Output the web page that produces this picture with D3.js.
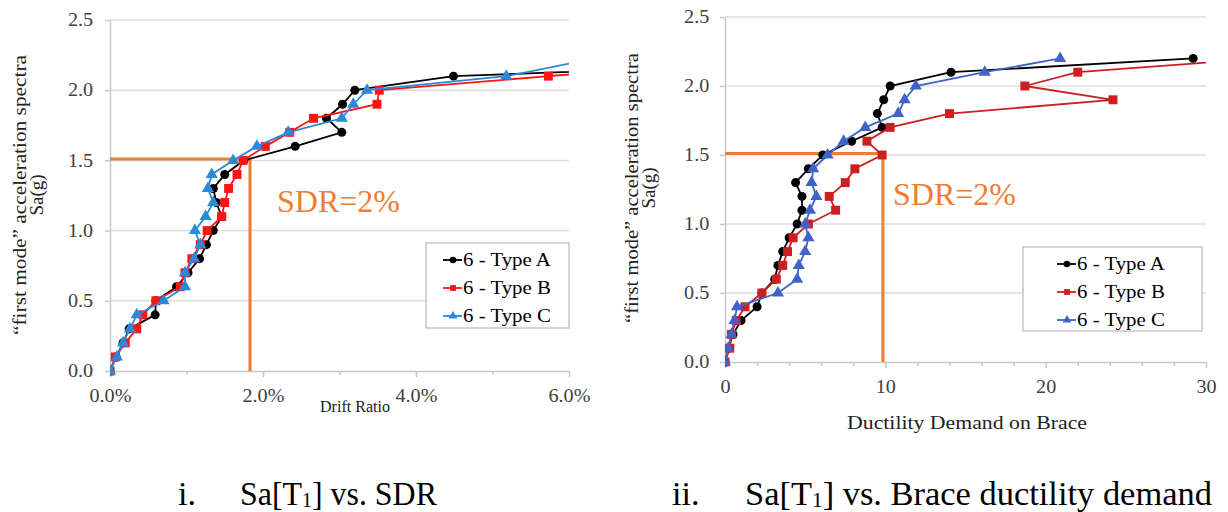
<!DOCTYPE html>
<html>
<head>
<meta charset="utf-8">
<script src="https://cdn.jsdelivr.net/npm/d3@7"></script>
<style>
  body { margin: 0; background: #fff; }
  svg text { font-family: "Liberation Serif", "Times New Roman", serif; }
</style>
</head>
<body>
<div id="container"></div>
<script>
// Sa levels (g) of the incremental dynamic analysis, shared by all series
const saLevels = [0.0, 0.1, 0.2, 0.3, 0.4, 0.5, 0.6, 0.7, 0.8, 0.9, 1.0, 1.1,
                  1.2, 1.3, 1.4, 1.5, 1.6, 1.7, 1.8, 1.9, 2.0, 2.1, 2.2];

// panel i: story drift ratio (%)
const driftA = [0, 0.08, 0.17, 0.25, 0.59, 0.6, 0.87, 1.02, 1.17, 1.26, 1.35, 1.46,
                1.39, 1.35, 1.5, 1.75, 2.42, 3.03, 2.83, 3.04, 3.2, 4.49, 9.5];
const driftB = [0, 0.07, 0.2, 0.35, 0.43, 0.6, 0.92, 0.98, 1.07, 1.18, 1.27, 1.46,
                1.5, 1.55, 1.66, 1.74, 2.03, 2.35, 2.66, 3.49, 3.52, 5.73, 8.0];
const driftC = [0, 0.09, 0.17, 0.26, 0.35, 0.7, 0.98, 0.98, 1.1, 1.18, 1.11, 1.25,
                1.35, 1.28, 1.33, 1.61, 1.92, 2.33, 3.03, 3.18, 3.36, 5.18, 6.1];

// panel ii: ductility demand on brace
const ductA = [0, 0.2, 0.5, 1.0, 2.0, 2.3, 3.1, 3.3, 3.6, 4.0, 4.5, 4.8,
               4.8, 4.4, 5.2, 6.1, 7.9, 9.8, 9.5, 9.9, 10.3, 14.1, 29.2];
const ductB = [0, 0.3, 0.4, 0.7, 1.25, 2.3, 3.2, 3.6, 3.9, 4.25, 5.2, 6.9,
               6.5, 7.5, 8.1, 9.8, 8.85, 10.3, 14.0, 24.2, 18.7, 22.0, 33.5];
const ductC = [0, 0.2, 0.4, 0.6, 0.75, 3.3, 4.5, 4.6, 5.0, 5.2, 5.0, 5.3,
               5.7, 5.4, 5.5, 6.4, 7.4, 8.75, 10.8, 11.2, 11.9, 16.2, 20.9];

const seriesNames = ["6 - Type A", "6 - Type B", "6 - Type C"];
const yTicks = [0, 0.5, 1.0, 1.5, 2.0, 2.5];
const driftTicks = [0, 2, 4, 6];
const driftMinor = [1, 3, 5];
const ductTicks = [0, 10, 20, 30];
const ductMinor = [2, 4, 6, 8, 12, 14, 16, 18, 22, 24, 26, 28];
const sdrSa = 1.51;          // Sa at SDR = 2%
const sdrDrift = 1.83;       // drift marker position
const sdrDuct = 9.85;        // ductility marker position

const w = 1228;
const h = 512;
const orange = "#ED7D31";

const svg = d3.select("#container")
              .append("svg")
              .attr("width", w)
              .attr("height", h);

// text placed at (x,y), optionally rotated, stretched to a target length
function label(str, x, y, o) {
    const g = svg.append("g");
    const t = g.append("text")
               .attr("text-anchor", o.anchor || "start")
               .style("font-size", o.size + "px")
               .attr("fill", o.color || "#000");
    if (o.sub) {
        t.append("tspan").text(o.sub[0]);
        t.append("tspan").text(o.sub[1]).style("font-size", (o.size * 0.62) + "px").attr("dy", 2);
        t.append("tspan").text(o.sub[2]).attr("dy", -2);
    } else {
        t.text(str);
    }
    let s = 1;
    if (o.fit) s = o.fit / t.node().getComputedTextLength();
    g.attr("transform", "translate(" + x + "," + y + ")" + (o.rotate ? " rotate(" + o.rotate + ")" : "") + " scale(" + s + ",1)");
    return t;
}

function drawPanel(p) {
    const x = d3.scaleLinear().domain(p.xDomain).range([p.left, p.right]);
    const y = d3.scaleLinear().domain([0, 2.5]).range([p.bottom, p.top]);

    svg.append("clipPath").attr("id", p.id)
       .append("rect")
       .attr("x", p.left).attr("y", p.top - 12)
       .attr("width", p.right - p.left).attr("height", p.bottom - p.top + 24);

    // horizontal gridlines
    svg.selectAll(null)
       .data(yTicks.slice(1))
       .enter()
       .append("line")
       .attr("x1", p.left).attr("x2", p.right)
       .attr("y1", d => y(d)).attr("y2", d => y(d))
       .attr("stroke", "#dedede")
       .attr("stroke-width", 1.5);

    // y axis
    const yAxis = d3.axisLeft(y).tickValues(yTicks).tickFormat(d3.format(".1f"))
                    .tickSize(5).tickSizeOuter(0).tickPadding(p.yPad);
    const ya = svg.append("g")
                  .attr("transform", "translate(" + p.left + ",0)")
                  .call(yAxis);

    // x axis, major + minor ticks
    const xAxis = d3.axisBottom(x).tickValues(p.xTicks).tickFormat(p.xFormat)
                    .tickSize(6).tickSizeOuter(0).tickPadding(p.xPad);
    const xa = svg.append("g")
                  .attr("transform", "translate(0," + p.bottom + ")")
                  .call(xAxis);
    const xm = svg.append("g")
                  .attr("transform", "translate(0," + p.bottom + ")")
                  .call(d3.axisBottom(x).tickValues(p.xMinor).tickFormat("").tickSize(4).tickSizeOuter(0));
    xm.select(".domain").remove();

    [ya, xa, xm].forEach(a => {
        a.attr("font-family", null);
        a.select(".domain").attr("stroke", "#c8c8c8").attr("stroke-width", 1.5);
        a.selectAll(".tick line").attr("stroke", "#c8c8c8").attr("stroke-width", 1.5);
        a.selectAll(".tick text")
         .style("font-size", "18px")
         .attr("fill", "#404040")
         .attr("transform", "scale(1.12,1)");
    });

    // SDR = 2% marker
    svg.append("path")
       .attr("d", "M" + x(0) + "," + y(sdrSa) + "H" + x(p.sdrX) + "V" + y(0))
       .attr("fill", "none")
       .attr("stroke", orange)
       .attr("stroke-width", 3);

    // series
    const plot = svg.append("g").attr("clip-path", "url(#" + p.id + ")");
    p.series.forEach(s => {
        const pts = saLevels.map((sa, i) => [s.values[i], sa]);
        plot.append("path")
            .datum(pts)
            .attr("d", d3.line().x(d => x(d[0])).y(d => y(d[1])))
            .attr("fill", "none")
            .attr("stroke", s.color)
            .attr("stroke-width", 1.8);
        plot.selectAll(null)
            .data(pts)
            .enter()
            .append("path")
            .attr("transform", d => "translate(" + x(d[0]) + "," + y(d[1]) + ")")
            .attr("d", d3.symbol().type(s.symbol).size(s.size))
            .attr("fill", s.color);
    });

    label("SDR=2%", p.sdrText[0], p.sdrText[1], {size: 32, color: orange, fit: 123});

    // legend
    const lg = p.legend;
    svg.append("rect")
       .attr("x", lg.x).attr("y", lg.y)
       .attr("width", lg.w).attr("height", lg.h)
       .attr("fill", "#fff")
       .attr("stroke", "#bdbdbd")
       .attr("stroke-width", 1.3);
    p.series.forEach((s, i) => {
        const cy = lg.y + 17 + i * 28;
        svg.append("line")
           .attr("x1", lg.lineX).attr("x2", lg.lineX + 19)
           .attr("y1", cy).attr("y2", cy)
           .attr("stroke", s.color).attr("stroke-width", 1.8);
        svg.append("path")
           .attr("transform", "translate(" + (lg.lineX + 10) + "," + cy + ")")
           .attr("d", d3.symbol().type(s.symbol).size(34))
           .attr("fill", s.color);
        label(seriesNames[i], lg.lineX + 20, cy + 6, {size: 18, fit: 88});
    });

    // axis titles
    label("\u201Cfirst mode\u201D acceleration spectra", p.yTitleX, p.yTitleY, {size: 19, anchor: "middle", rotate: -90, fit: p.yTitleLen, color: "#222"});
    label("Sa(g)", p.yTitleX + 17, p.yTitleY, {size: 19, anchor: "middle", rotate: -90, color: "#222"});
    label(p.xTitle, p.xTitlePos[0], p.xTitlePos[1], {size: p.xTitleSize, anchor: "middle", fit: p.xTitleLen, color: "#222"});
}

drawPanel({
    id: "clipL",
    xDomain: [0, 6], left: 110, right: 569, top: 20, bottom: 371,
    xTicks: driftTicks, xMinor: driftMinor, xFormat: d => d.toFixed(1) + "%",
    xPad: 12, yPad: 10,
    sdrX: sdrDrift, sdrText: [277, 212],
    series: [
        {values: driftA, color: "#000000", symbol: d3.symbolCircle, size: 64},
        {values: driftB, color: "#FF1414", symbol: d3.symbolSquare, size: 80},
        {values: driftC, color: "#2A8AD8", symbol: d3.symbolTriangle, size: 64}
    ],
    legend: {x: 426, y: 243, w: 143, h: 85, lineX: 443},
    yTitleX: 26, yTitleY: 195, yTitleLen: 280,
    xTitle: "Drift Ratio", xTitleSize: 16, xTitlePos: [355, 412], xTitleLen: 70
});

drawPanel({
    id: "clipR",
    xDomain: [0, 30], left: 725, right: 1206, top: 17, bottom: 362,
    xTicks: ductTicks, xMinor: ductMinor, xFormat: d3.format("d"),
    xPad: 12, yPad: 9,
    sdrX: sdrDuct, sdrText: [893, 205],
    series: [
        {values: ductA, color: "#000000", symbol: d3.symbolCircle, size: 64},
        {values: ductB, color: "#CC1F22", symbol: d3.symbolSquare, size: 80},
        {values: ductC, color: "#3F63C8", symbol: d3.symbolTriangle, size: 64}
    ],
    legend: {x: 1023, y: 247, w: 179, h: 84, lineX: 1057},
    yTitleX: 638, yTitleY: 188, yTitleLen: 270,
    xTitle: "Ductility Demand on Brace", xTitleSize: 18, xTitlePos: [967, 429], xTitleLen: 240
});

// captions
label("i.", 178, 505, {size: 34});
label("", 240, 505, {size: 34, sub: ["Sa[T", "1", "] vs. SDR"], fit: 197});
label("ii.", 672, 505, {size: 34});
label("", 745, 505, {size: 34, sub: ["Sa[T", "1", "]  vs. Brace ductility demand"], fit: 467});
</script>
</body>
</html>
